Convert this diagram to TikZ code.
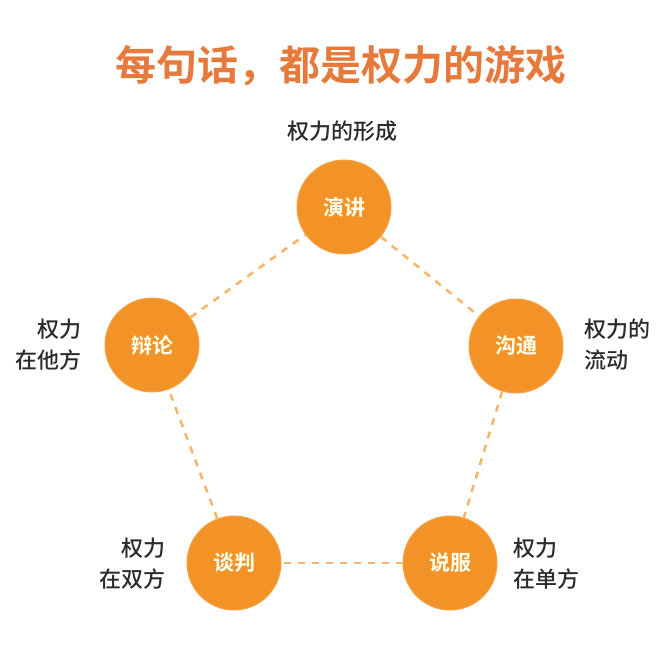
\documentclass[tikz,border=0pt]{standalone}
\usepackage{fontspec}
\newfontfamily\cjk{Noto Sans CJK SC Medium}
\newfontfamily\cjkb{Noto Sans CJK SC Bold}
\begin{document}
\begin{tikzpicture}[x=1pt,y=-1pt,
  ball/.style={circle,fill=ballorange,draw=ballorange!85!white,line width=1pt,minimum size=94pt,inner sep=0pt,text=white!92!yellow,font=\cjkb\fontsize{21}{21}\selectfont},
  lbl/.style={text=textgray,font=\cjk\fontsize{22}{31}\selectfont,inner sep=0pt},
  link/.style={draw=linkorange,line width=2.6pt,dash pattern=on 7pt off 7pt}]
\definecolor{ballorange}{HTML}{F39327}
\definecolor{linkorange}{HTML}{F5B66E}
\definecolor{titleorange}{HTML}{E67A3C}
\definecolor{textgray}{HTML}{2B2B2B}
\useasboundingbox (0,0) rectangle (671,662);
\node[text=titleorange,font=\cjkb\fontsize{41}{41}\selectfont,inner sep=0pt] (title) at (341,66) {每句话，都是权力的游戏};
\node[ball] (yj) at (344,207) {演讲};
\node[ball] (gt) at (516,346) {沟通};
\node[ball] (sf) at (450,563) {说服};
\node[ball] (tp) at (234,563) {谈判};
\node[ball] (bl) at (152,345) {辩论};
\path[link] (yj) -- (gt);
\path[link] (gt) -- (sf);
\path[link] (sf) -- (tp);
\path[link] (tp) -- (bl);
\path[link] (bl) -- (yj);
\node[lbl] (l1) at (342,131) {权力的形成};
\node[lbl,anchor=east,align=right] (l2) at (82,345) {权力\\在他方};
\node[lbl,anchor=west,align=left] (l3) at (584,345) {权力的\\流动};
\node[lbl,anchor=east,align=right] (l4) at (166,564) {权力\\在双方};
\node[lbl,anchor=west,align=left] (l5) at (513,564) {权力\\在单方};
\end{tikzpicture}
\end{document}
